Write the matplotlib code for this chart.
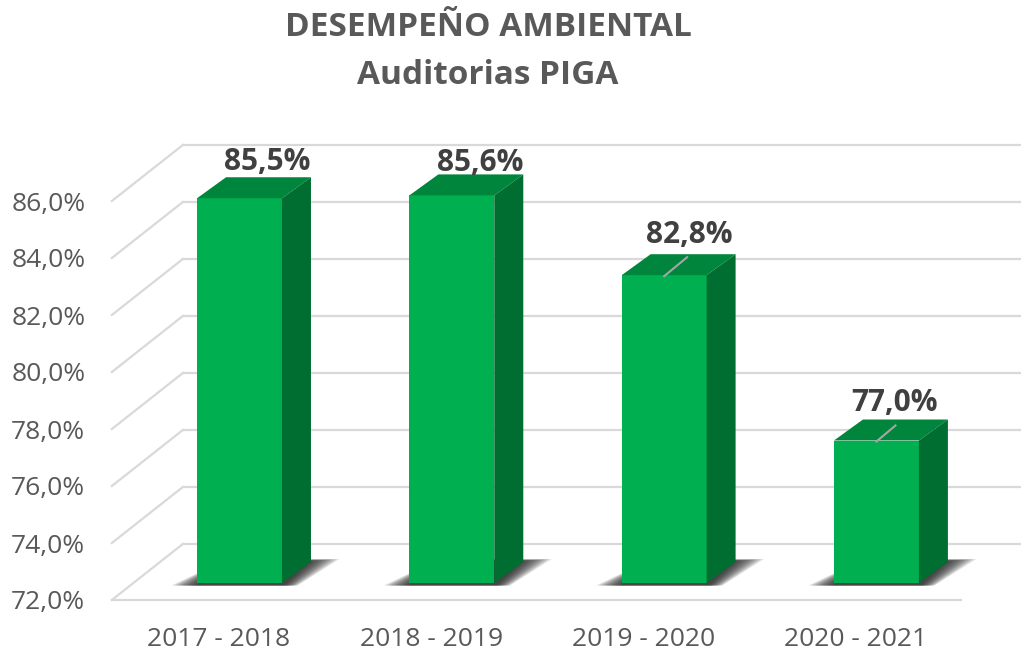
import numpy as np
import matplotlib
matplotlib.use('Agg')
import matplotlib.pyplot as plt
from matplotlib.patches import Polygon
from matplotlib.transforms import Affine2D

# data
periods = ['2017 - 2018', '2018 - 2019', '2019 - 2020', '2020 - 2021']
scores = [85.5, 85.6, 82.8, 77.0]
score_labels = ['85,5%', '85,6%', '82,8%', '77,0%']
y_ticks = [72, 74, 76, 78, 80, 82, 84, 86]
y_tick_labels = ['72,0%', '74,0%', '76,0%', '78,0%', '80,0%', '82,0%', '84,0%', '86,0%']

# label offsets from the bar top centre, in pixels
label_dx = [28, 28.5, 25.5, 18.5]
label_dy = [36, 32, 40, 37.5]
# leader line size on the top face, in pixels
leader_dx = [0, 0, 23, 19]
leader_dy = [0, 0, 19, 16]

plt.rcParams['font.family'] = ['Open Sans', 'DejaVu Sans']

W, H = 1021, 651
fig = plt.figure(figsize=(W / 100, H / 100), dpi=100)
# axes is the plane of the bar fronts, everything else is shifted from it in pixels
ax = fig.add_axes([133.35 / W, (H - 583) / H, 849.25 / W, 399 / H])
ax.set_xlim(-0.5, 3.5)
ax.set_ylim(72, 86)
ax.axis('off')

BAR_W = 0.4
GRID = '#d9d9d9'
FRONT = '#00b050'
TOP = '#00863c'
SIDE = '#006e30'
PT = 72 / fig.dpi  # points per pixel


def shifted(dx, dy):
    # pixel shift on top of the data transform
    return ax.transData + Affine2D().translate(dx, dy)


# back wall and side wall gridlines
for v, tick_lab in zip(y_ticks, y_tick_labels):
    ax.plot([-0.5, 3.6], [v, v], color=GRID, lw=1.6, transform=shifted(49.5, 39), clip_on=False, zorder=1)
    p0 = ax.transData.transform((-0.5, v))
    ax.add_line(plt.Line2D([p0[0] - 21.5, p0[0] + 49.5], [p0[1] - 17, p0[1] + 39], transform=None,
                           color=GRID, lw=1.6, zorder=1, clip_on=False))
    ax.annotate(tick_lab, xy=(-0.5, v), xytext=(-48 * PT, -20 * PT), textcoords='offset points',
                ha='right', va='center', fontsize=19, color='#595959', annotation_clip=False)

# floor front edge
ax.plot([-0.5, 3.5], [72, 72], color=GRID, lw=1.6, transform=shifted(-21.5, -17), clip_on=False, zorder=1)

for i, (val, lab) in enumerate(zip(scores, score_labels)):
    x0, x1 = i - BAR_W / 2, i + BAR_W / 2
    l, b = ax.transData.transform((x0, 72))
    r, t = ax.transData.transform((x1, val))

    # soft floor shadow, stacked translucent polygons
    for k in np.linspace(0, 1, 30):
        grow = 1 - k
        shadow = np.array([
            [l - 26 * grow, b - 2.5],
            [r + 2 + 14 * grow, b - 2.5],
            [r + 28 + 30 * grow, b + 24 - 2 * k],
            [l + 30, b + 24 - 2 * k],
        ])
        ax.add_patch(Polygon(shadow, closed=True, transform=None, fc='#262626', ec='none',
                             alpha=0.055, zorder=2, clip_on=False))

    # front, top and side faces
    ax.bar(i, val - 72, BAR_W, bottom=72, color=FRONT, zorder=5, clip_on=False)
    ax.add_patch(Polygon([[l, t], [r, t], [r + 29, t + 21], [l + 29, t + 21]], closed=True,
                         transform=None, fc=TOP, ec='none', zorder=5, clip_on=False))
    ax.add_patch(Polygon([[r, b], [r + 29, b + 21], [r + 29, t + 21], [r, t]], closed=True,
                         transform=None, fc=SIDE, ec='none', zorder=5, clip_on=False))

    # leader line on the lower two bars
    if leader_dx[i]:
        xm = (l + r) / 2
        ax.add_line(plt.Line2D([xm, xm + leader_dx[i]], [t - 1, t - 1 + leader_dy[i]], transform=None,
                               color='#a6a6a6', lw=1.5, zorder=6, clip_on=False))

    ax.annotate(lab, xy=(i, val), xytext=(label_dx[i] * PT, label_dy[i] * PT), textcoords='offset points',
                ha='center', va='center', fontsize=21.5, fontweight='bold', color='#404040', zorder=7,
                annotation_clip=False)

    # category label on the front floor edge
    ax.annotate(periods[i], xy=(i, 72), xytext=(-20.5 * PT, -57 * PT), textcoords='offset points',
                ha='center', va='center', fontsize=19, color='#595959', annotation_clip=False)

fig.text(488 / W, 1 - 28 / H, 'DESEMPEÑO AMBIENTAL', ha='center', va='center', fontsize=24,
         fontweight='bold', color='#595959')
fig.text(488 / W, 1 - 76 / H, 'Auditorias PIGA', ha='center', va='center', fontsize=24,
         fontweight='bold', color='#595959')

fig.savefig('out.png', dpi=100, facecolor='white')
